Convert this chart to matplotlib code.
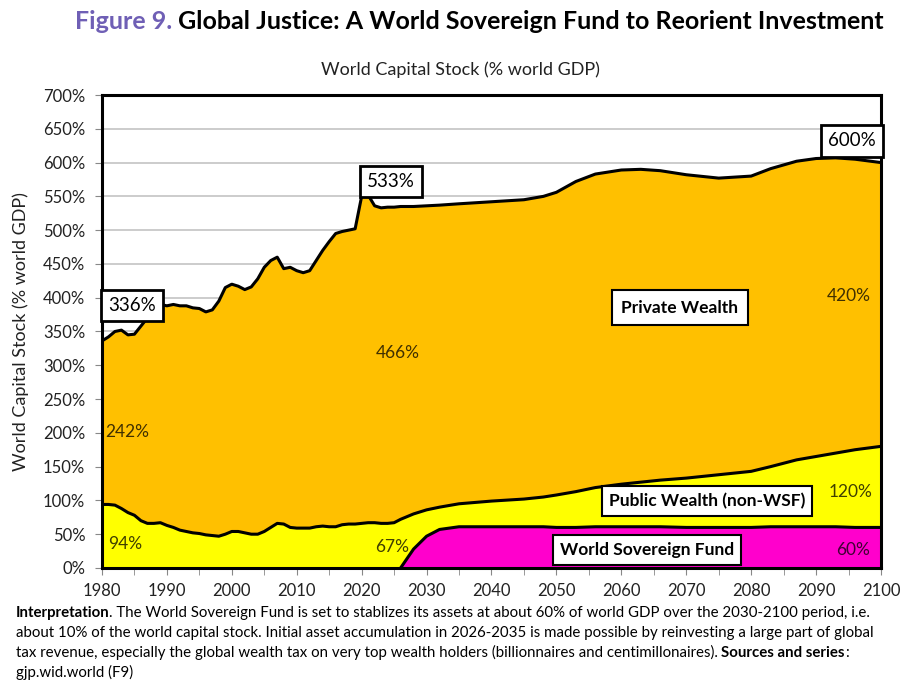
import matplotlib
matplotlib.use('Agg')
import matplotlib.pyplot as plt
from matplotlib.ticker import MultipleLocator, FuncFormatter

plt.rcParams['font.family'] = ['Lato', 'DejaVu Sans']

# 年份网格 (1980-2025 历史, 之后为预测)
years = list(range(1980, 2026)) + [2026, 2028, 2030, 2032, 2035, 2040, 2045, 2048, 2050, 2053,
                                   2056, 2060, 2063, 2066, 2070, 2075, 2080, 2083, 2087, 2090,
                                   2093, 2096, 2100]

# 总资本存量 (% world GDP)
total_wealth = [336, 342, 350, 352, 345, 346, 358, 370, 386, 390,
                388, 390, 388, 388, 385, 384, 379, 382, 395, 415,
                420, 417, 412, 416, 428, 445, 455, 460, 443, 445,
                440, 437, 440, 455, 470, 483, 495, 498, 500, 502,
                550, 552, 536, 533, 534, 534,
                535, 535, 536, 537, 539, 542, 545, 550, 556, 572,
                583, 589, 590, 588, 582, 577, 580, 591, 602, 606,
                607, 605, 600]

# 公共财富 (含 WSF)
public_incl_wsf = [94, 94, 93, 88, 82, 78, 70, 66, 66, 67,
                   63, 60, 56, 54, 52, 51, 49, 48, 47, 50,
                   54, 54, 52, 50, 50, 54, 60, 66, 65, 60,
                   59, 59, 59, 61, 62, 61, 61, 64, 65, 65,
                   66, 67, 67, 66, 66, 67,
                   72, 80, 86, 90, 95, 99, 102, 105, 108, 113,
                   119, 124, 127, 130, 133, 138, 143, 150, 160, 165,
                   170, 175, 180]

# 世界主权基金
wsf = [0] * 46 + [0, 28, 47, 57, 61, 61, 61, 61, 60, 60,
                  61, 61, 61, 61, 60, 60, 60, 61, 61, 61,
                  61, 60, 60]

ytick_vals = list(range(0, 701, 50))
xtick_vals = list(range(1980, 2101, 10))

c_private = '#FFC000'
c_public = '#FFFF00'
c_wsf = '#FF00CC'

fig = plt.figure(figsize=(9.12, 6.94), dpi=100)
ax = fig.add_axes([0.1118, 0.1816, 0.8542, 0.6815])

ax.fill_between(years, 0, wsf, color=c_wsf, linewidth=0, zorder=2)
ax.fill_between(years, wsf, public_incl_wsf, color=c_public, linewidth=0, zorder=2)
ax.fill_between(years, public_incl_wsf, total_wealth, color=c_private, linewidth=0, zorder=2)

ax.plot(years, total_wealth, color='black', lw=2.2, zorder=3, solid_joinstyle='round')
ax.plot(years, public_incl_wsf, color='black', lw=2.2, zorder=3, solid_joinstyle='round')
ax.plot(years[46:], wsf[46:], color='black', lw=2.2, zorder=3, solid_joinstyle='round')

ax.set_xlim(1980, 2100)
ax.set_ylim(0, 700)
ax.set_yticks(ytick_vals)
ax.yaxis.set_major_formatter(FuncFormatter(lambda v, p: f'{int(v)}%'))
ax.set_xticks(xtick_vals)
ax.xaxis.set_minor_locator(MultipleLocator(5))
ax.tick_params(axis='both', which='both', direction='out', color='#888888', labelsize=12,
               labelcolor='#222222')
ax.tick_params(axis='x', which='major', length=5, pad=6)
ax.tick_params(axis='x', which='minor', length=5)
ax.tick_params(axis='y', length=5, pad=7)
ax.grid(axis='y', color='#c8c8c8', lw=1.3, zorder=1)
ax.set_axisbelow(True)
for s in ax.spines.values():
    s.set_linewidth(2.2)
    s.set_color('black')
    s.set_zorder(4)

ax.set_ylabel('World Capital Stock (% world GDP)', fontsize=13, color='#222222', labelpad=10)

# 标注
box_kw = dict(boxstyle='square,pad=0.38', facecolor='white', edgecolor='black', linewidth=2.0)
for x, y, s in [(1984.6, 388, '336%'), (2024.5, 572, '533%'), (2095.5, 632, '600%')]:
    ax.text(x, y, s, fontsize=13.5, ha='center', va='center', bbox=box_kw, zorder=6)

name_kw = dict(boxstyle='square,pad=0.55', facecolor='white', edgecolor='black', linewidth=1.5)
ax.text(2069, 385, 'Private Wealth', fontsize=12.5, fontweight='bold', ha='center', va='center',
        bbox=name_kw, zorder=6)
ax.text(2073.2, 99, 'Public Wealth (non-WSF)', fontsize=12.5, fontweight='bold', ha='center',
        va='center', bbox=dict(name_kw, boxstyle='square,pad=0.4'), zorder=6)
ax.text(2064, 27, 'World Sovereign Fund', fontsize=12.5, fontweight='bold', ha='center',
        va='center', bbox=dict(name_kw, boxstyle='square,pad=0.4'), zorder=6)

for x, y, s in [(1983.9, 201, '242%'), (2025.6, 318, '466%'), (1983.6, 35, '94%'),
                (2024.7, 31, '67%'), (2095, 402, '420%'), (2095.3, 112, '120%'),
                (2095.7, 27, '60%')]:
    ax.text(x, y, s, fontsize=12.5, ha='center', va='center', color='black', alpha=0.75, zorder=5)

fig.text(0.505, 0.899, 'World Capital Stock (% world GDP)', fontsize=13, ha='center', va='center',
         color='#222222')

renderer = fig.canvas.get_renderer()


def run_width(txt, size, weight):
    a = fig.text(0, 0, '|' + txt + '|', fontsize=size, fontweight=weight)
    b = fig.text(0, 0, '||', fontsize=size, fontweight=weight)
    w = a.get_window_extent(renderer).width - b.get_window_extent(renderer).width
    a.remove()
    b.remove()
    return w / fig.bbox.width


def draw_runs(x, y, runs, size):
    for txt, weight, color in runs:
        fig.text(x, y, txt, fontsize=size, fontweight=weight, color=color, ha='left', va='baseline')
        x += run_width(txt, size, weight)


draw_runs(0.082, 0.958, [('Figure 9.', 'bold', '#6f5fb5'),
                         (' Global Justice: A World Sovereign Fund to Reorient Investment', 'bold', 'black')],
          18)

foot = 10.8
fy = [0.111, 0.082, 0.053, 0.024]
draw_runs(0.017, fy[0], [('Interpretation', 'bold', 'black'),
                         ('. The World Sovereign Fund is set to stablizes its assets at about 60% of world GDP over the 2030-2100 period, i.e.', 'normal', 'black')], foot)
draw_runs(0.017, fy[1], [('about 10% of the world capital stock. Initial asset accumulation in 2026-2035 is made possible by reinvesting a large part of global', 'normal', 'black')], foot)
draw_runs(0.017, fy[2], [('tax revenue, especially the global wealth tax on very top wealth holders (billionnaires and centimillonaires). ', 'normal', 'black'),
                         ('Sources and series', 'bold', 'black'), (':', 'normal', 'black')], foot)
draw_runs(0.017, fy[3], [('gjp.wid.world (F9)', 'normal', 'black')], foot)

fig.savefig('out.png', dpi=100)
